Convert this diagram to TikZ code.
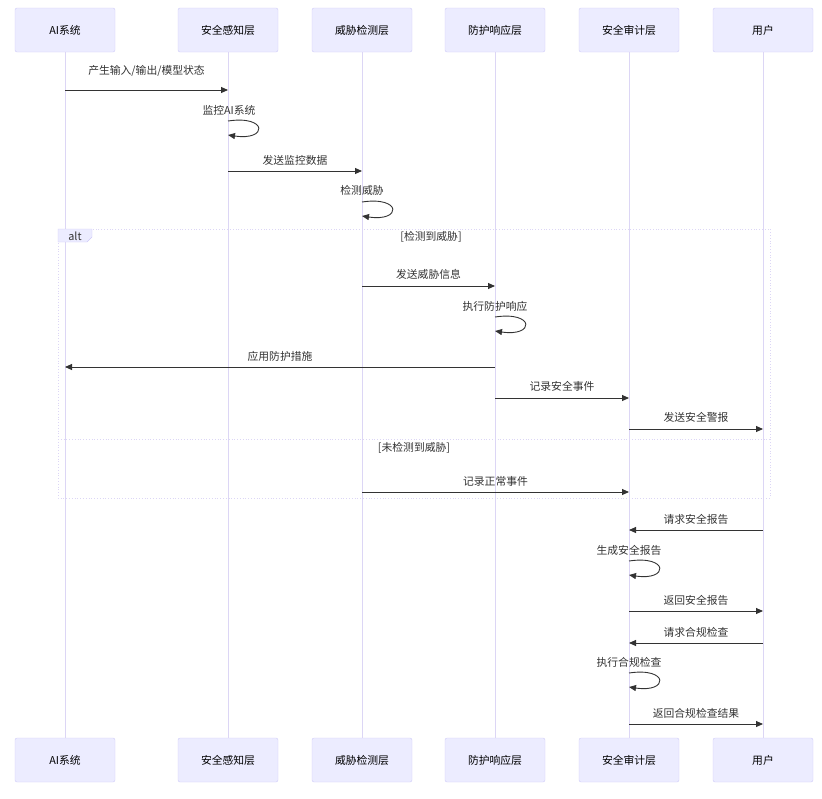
\documentclass[tikz,border=0pt]{standalone}
\usepackage{fontspec}
\setmainfont{Noto Sans CJK SC}
\usetikzlibrary{arrows.meta,positioning,calc}
\definecolor{actfill}{RGB}{236,236,255}
\definecolor{actline}{RGB}{206,202,248}
\definecolor{lifeline}{RGB}{220,214,245}
\definecolor{ink}{RGB}{51,51,51}
\tikzset{
  actor/.style={
    draw=actline,
    fill=actfill,
    rounded corners=2pt,
    minimum width=100pt,
    minimum height=44pt,
    font=\fontsize{10.8}{12}\selectfont,
    text=black
  },
  life/.style={draw=lifeline, line width=0.9pt},
  msg/.style={-{Triangle[length=7pt,width=6pt]}, draw=ink, line width=0.9pt},
  txt/.style={font=\fontsize{10.8}{12}\selectfont, text=ink, inner sep=0pt},
  frame/.style={draw=lifeline, dotted, line width=0.8pt}
}
\newcommand{\selfloop}[2]{%
  \draw[msg] (#1 |- 0,#2) .. controls ($(#1 |- 0,#2)+(40,-6)$) and ($(#1 |- 0,#2)+(40,20)$) .. ($(#1 |- 0,#2)+(0,14)$);}

\begin{document}
\begin{tikzpicture}[x=1pt, y=-1pt]
  \useasboundingbox (0,0) rectangle (822,798);

  % actors, top and bottom
  \node[actor] (ai)     at (65,30)  {AI系统};
  \node[actor] (sense)  at (228,30) {安全感知层};
  \node[actor] (detect) at (362,30) {威胁检测层};
  \node[actor] (guard)  at (495,30) {防护响应层};
  \node[actor] (audit)  at (629,30) {安全审计层};
  \node[actor] (user)   at (763,30) {用户};

  \node[actor] (aiB)     at (65,760)  {AI系统};
  \node[actor] (senseB)  at (228,760) {安全感知层};
  \node[actor] (detectB) at (362,760) {威胁检测层};
  \node[actor] (guardB)  at (495,760) {防护响应层};
  \node[actor] (auditB)  at (629,760) {安全审计层};
  \node[actor] (userB)   at (763,760) {用户};

  \draw[life] (ai) -- (aiB);
  \draw[life] (sense) -- (senseB);
  \draw[life] (detect) -- (detectB);
  \draw[life] (guard) -- (guardB);
  \draw[life] (audit) -- (auditB);
  \draw[life] (user) -- (userB);

  % alt frame
  \draw[frame] (58,229) rectangle (770,498);
  \draw[frame] (58,439) -- (770,439);
  \filldraw[draw=actline, fill=actfill] (58,229) -- (92,229) -- (92,237) -- (87,242) -- (58,242) -- cycle;
  \node[txt] (altlbl) at (75,236) {alt};
  \node[txt] (case1) at (431,237) {[检测到威胁]};
  \node[txt] (case2) at (414,448) {[未检测到威胁]};

  % messages
  \draw[msg] (ai |- 0,90) -- node[txt, midway, yshift=19pt] (m1) {产生输入/输出/模型状态} (sense |- 0,90);
  \node[txt] (m2) at (229,110) {监控AI系统};
  \selfloop{sense}{121}
  \draw[msg] (sense |- 0,171) -- node[txt, midway, yshift=11pt] (m3) {发送监控数据} (detect |- 0,171);
  \node[txt] (m4) at (362,190) {检测威胁};
  \selfloop{detect}{202}

  \draw[msg] (detect |- 0,286) -- node[txt, midway, yshift=12pt] (m5) {发送威胁信息} (guard |- 0,286);
  \node[txt] (m6) at (495,306) {执行防护响应};
  \selfloop{guard}{317}
  \draw[msg] (guard |- 0,367) -- node[txt, midway, yshift=11pt] (m7) {应用防护措施} (ai |- 0,367);
  \draw[msg] (guard |- 0,398) -- node[txt, midway, yshift=12pt] (m8) {记录安全事件} (audit |- 0,398);
  \draw[msg] (audit |- 0,429) -- node[txt, midway, yshift=12pt] (m9) {发送安全警报} (user |- 0,429);

  \draw[msg] (detect |- 0,492) -- node[txt, midway, yshift=11pt] (m10) {记录正常事件} (audit |- 0,492);

  \draw[msg] (user |- 0,530) -- node[txt, midway, yshift=11pt] (m11) {请求安全报告} (audit |- 0,530);
  \node[txt] (m12) at (629,550) {生成安全报告};
  \selfloop{audit}{561}
  \draw[msg] (audit |- 0,611) -- node[txt, midway, yshift=11pt] (m13) {返回安全报告} (user |- 0,611);
  \draw[msg] (user |- 0,643) -- node[txt, midway, yshift=11pt] (m14) {请求合规检查} (audit |- 0,643);
  \node[txt] (m15) at (629,662) {执行合规检查};
  \selfloop{audit}{673}
  \draw[msg] (audit |- 0,724) -- node[txt, midway, yshift=11pt] (m16) {返回合规检查结果} (user |- 0,724);
\end{tikzpicture}
\end{document}
